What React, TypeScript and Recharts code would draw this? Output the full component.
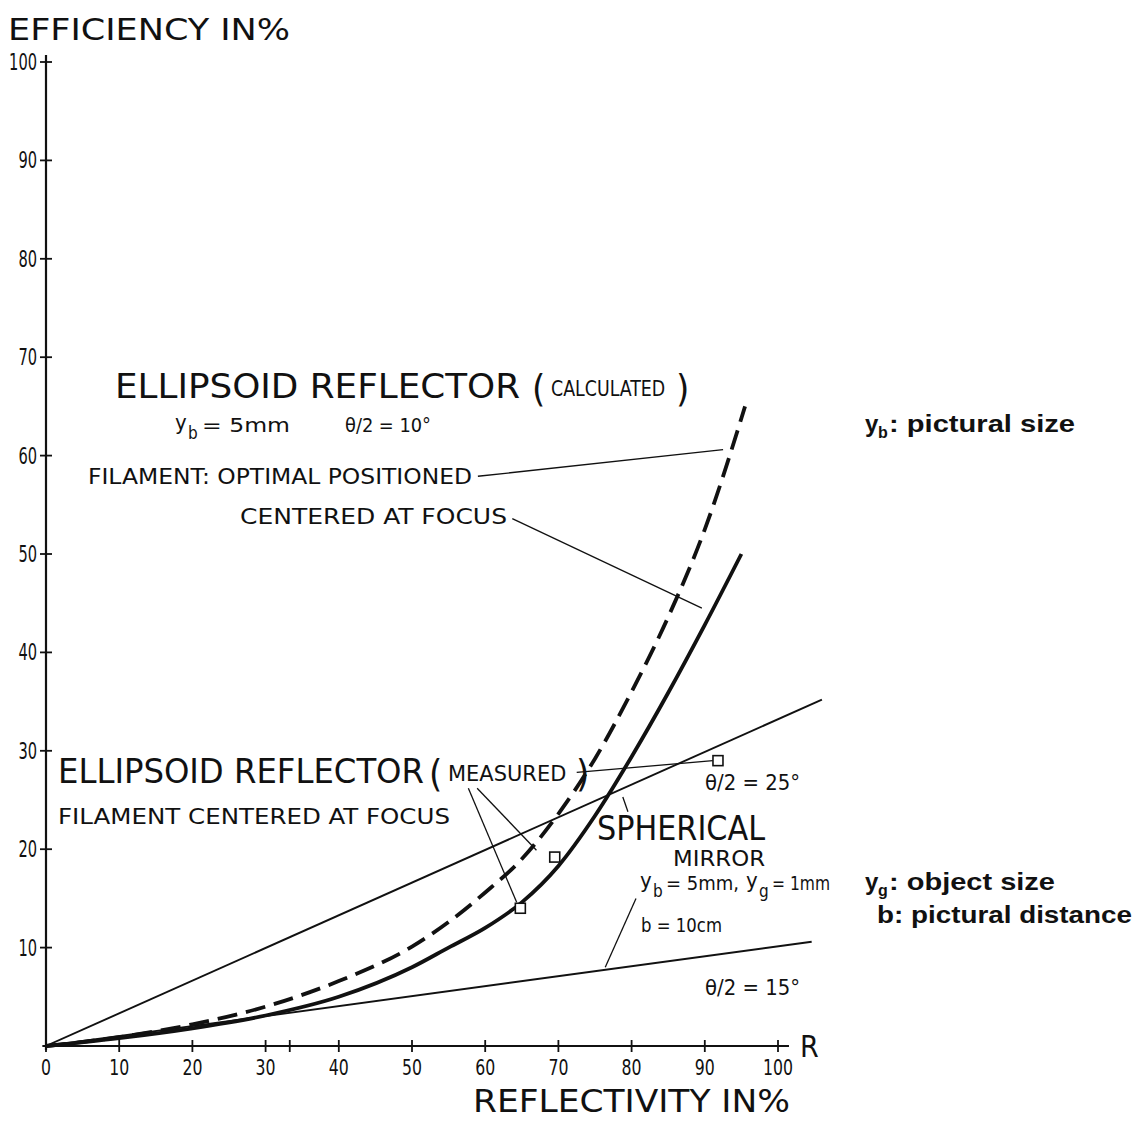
import React from "react";
import { ComposedChart, Line, Scatter, XAxis, YAxis, ReferenceLine } from "recharts";

// axis ticks
const X_TICKS = [0, 10, 20, 30, 40, 50, 60, 70, 80, 90, 100];
const X_EXTRA_TICK = 33.3;
const Y_TICKS = [10, 20, 30, 40, 50, 60, 70, 80, 90, 100];

// ellipsoid reflector (calculated), filament optimal positioned – dashed
const optimalR = [0, 10, 20, 30, 40, 50, 55, 60, 65, 70, 75, 80, 85, 90, 95.5];
const optimalEff = [0, 0.9, 2.2, 4.0, 6.6, 10.1, 12.6, 15.6, 19.0, 23.6, 29.2, 36.0, 43.6, 52.5, 65];

// ellipsoid reflector (calculated), filament centered at focus – solid
const centeredR = [0, 10, 20, 30, 40, 50, 55, 60, 65, 70, 75, 80, 85, 90, 95];
const centeredEff = [0, 0.8, 1.8, 3.1, 5.0, 8.0, 10.0, 12.0, 14.6, 18.3, 23.4, 29.4, 35.9, 42.8, 50];

// spherical mirror, theta/2 = 25° and 15°
const sph25R = [0, 106];
const sph25Eff = [0, 35.2];
const sph15R = [0, 104.6];
const sph15Eff = [0, 10.6];

// ellipsoid reflector (measured)
const measuredR = [64.8, 69.5, 91.8];
const measuredEff = [14.0, 19.2, 29.0];

const pts = (xs: number[], ys: number[]) => xs.map((r, i) => ({ r, eff: ys[i] }));

const optimal = pts(optimalR, optimalEff);
const centered = pts(centeredR, centeredEff);
const sph25 = pts(sph25R, sph25Eff);
const sph15 = pts(sph15R, sph15Eff);
const measured = pts(measuredR, measuredEff);

// pointer lines from the captions to the curves
const leaders: [number, number, number, number][] = [
  [59.0, 57.9, 92.5, 60.6],
  [63.7, 53.6, 89.6, 44.5],
  [72.5, 27.8, 91.1, 29.0],
  [57.7, 26.2, 64.3, 14.6],
  [58.9, 26.2, 67.0, 19.9],
  [78.8, 25.3, 79.5, 23.8],
  [80.6, 15.0, 76.4, 8.0],
];

const INK = "#111";
const DIN = '"DejaVu Sans Condensed", "Liberation Sans Narrow", "DejaVu Sans", sans-serif';
const HELV = '"Liberation Sans", Arial, sans-serif';

const XTick = ({ x, y, payload }: any) => (
  <g>
    <line x1={x} x2={x} y1={y - 6} y2={y + 6} stroke={INK} strokeWidth={1.8} />
    {X_TICKS.includes(payload.value) && (
      <text x={x} y={y + 29} textAnchor="middle" fontFamily={DIN} fontSize={22} fill={INK}
        textLength={String(payload.value).length * 10} lengthAdjust="spacingAndGlyphs">
        {payload.value}
      </text>
    )}
  </g>
);

const YTick = ({ x, y, payload }: any) => (
  <g>
    <line x1={x - 6} x2={x + 6} y1={y} y2={y} stroke={INK} strokeWidth={1.8} />
    <text x={x - 9} y={y + 8} textAnchor="end" fontFamily={DIN} fontSize={23} fill={INK}
      textLength={String(payload.value).length * 9.3} lengthAdjust="spacingAndGlyphs">
      {payload.value}
    </text>
  </g>
);

const Box = ({ cx, cy }: any) => (
  <rect x={cx - 5} y={cy - 5} width={10} height={10} fill="#fff" stroke={INK} strokeWidth={1.6} />
);

const T = ({ x, y, s, len, children, family = DIN, weight = 400 }: any) => (
  <text x={x} y={y} fontSize={s} fontFamily={family} fontWeight={weight} fill={INK}
    {...(len ? { textLength: len, lengthAdjust: "spacingAndGlyphs" } : {})}>
    {children}
  </text>
);

// "(WORD)" with tall brackets around narrowed small capitals
const Bracketed = ({ x, y, word, sx, len }: any) => (
  <g fontFamily={DIN} fill={INK}>
    <text x={x} y={y + 3} fontSize={38}>(</text>
    <text transform={`translate(${x + 19},${y - 2}) scale(${sx},1)`} fontSize={22}>{word}</text>
    <text x={x + 30 + len} y={y + 3} fontSize={38}>)</text>
  </g>
);

export default function App() {
  return (
    <div style={{ position: "absolute", left: 0, top: 0, width: 1138, height: 1122, background: "#fff" }}>
      <ComposedChart width={1138} height={1122} margin={{ top: 62, right: 286.8, bottom: 46, left: 6 }}>
        <XAxis type="number" dataKey="r" domain={[0, 110]} ticks={[...X_TICKS, X_EXTRA_TICK].sort((a, b) => a - b)}
          interval={0} height={30} axisLine={false} tickLine={false} tickSize={0} tickMargin={0} tick={<XTick />} allowDataOverflow />
        <YAxis type="number" dataKey="eff" domain={[0, 100]} ticks={Y_TICKS} interval={0} width={40}
          axisLine={false} tickLine={false} tickSize={0} tickMargin={0} tick={<YTick />} />
        <ReferenceLine segment={[{ x: -0.5, y: 0 }, { x: 101.5, y: 0 }]} stroke={INK} strokeWidth={2.2} ifOverflow="visible" />
        <ReferenceLine segment={[{ x: 0, y: -0.4 }, { x: 0, y: 100.7 }]} stroke={INK} strokeWidth={2.2} ifOverflow="visible" />

        <Line data={sph25} dataKey="eff" type="linear" stroke={INK} strokeWidth={1.9} dot={false} isAnimationActive={false} />
        <Line data={sph15} dataKey="eff" type="linear" stroke={INK} strokeWidth={1.9} dot={false} isAnimationActive={false} />
        <Line data={optimal} dataKey="eff" type="monotone" stroke={INK} strokeWidth={3.8} strokeDasharray="20 9" dot={false} isAnimationActive={false} />
        <Line data={centered} dataKey="eff" type="monotone" stroke={INK} strokeWidth={3.8} dot={false} isAnimationActive={false} />

        {leaders.map(([x1, y1, x2, y2], i) => (
          <ReferenceLine key={i} segment={[{ x: x1, y: y1 }, { x: x2, y: y2 }]} stroke={INK} strokeWidth={1.3} ifOverflow="visible" />
        ))}

        <Scatter data={measured} dataKey="eff" shape={<Box />} isAnimationActive={false} />
      </ComposedChart>

      <svg width={1138} height={1122} style={{ position: "absolute", left: 0, top: 0, pointerEvents: "none" }}>
        <T x={8} y={40} s={31} len={282}>EFFICIENCY IN%</T>
        <T x={473} y={1112} s={32} len={317}>REFLECTIVITY IN%</T>
        <T x={800} y={1057} s={30}>R</T>

        {/* calculated ellipsoid block */}
        <T x={115} y={398} s={34} len={405}>ELLIPSOID REFLECTOR</T>
        <Bracketed x={532} y={398} word="CALCULATED" sx={0.88} len={114} />
        <T x={175} y={430} s={22}>y</T>
        <T x={188} y={439} s={17}>b</T>
        <T x={202} y={432} s={19} len={88}>= 5mm</T>
        <T x={345} y={432} s={19} len={86}>θ/2 = 10°</T>
        <T x={88} y={484} s={22} len={384}>FILAMENT: OPTIMAL POSITIONED</T>
        <T x={240} y={524} s={22} len={267}>CENTERED AT FOCUS</T>

        {/* measured ellipsoid block */}
        <T x={58} y={783} s={34} len={366}>ELLIPSOID REFLECTOR</T>
        <Bracketed x={429} y={783} word="MEASURED" sx={1.06} len={117} />
        <T x={58} y={824} s={22} len={392}>FILAMENT CENTERED AT FOCUS</T>

        {/* spherical mirror block */}
        <T x={597} y={840} s={34} len={168}>SPHERICAL</T>
        <T x={673} y={866} s={22} len={92}>MIRROR</T>
        <T x={640} y={888} s={22}>y</T>
        <T x={653} y={897} s={17}>b</T>
        <T x={666} y={890} s={20} len={73}>= 5mm,</T>
        <T x={746} y={888} s={22}>y</T>
        <T x={759} y={897} s={17}>g</T>
        <T x={772} y={890} s={20} len={58}>= 1mm</T>
        <T x={641} y={932} s={20} len={81}>b = 10cm</T>
        <T x={705} y={790} s={22} len={95}>θ/2 = 25°</T>
        <T x={705} y={995} s={22} len={95}>θ/2 = 15°</T>

        {/* symbol legend */}
        <T x={865} y={432} s={24} family={HELV} weight={700}>y</T>
        <T x={878} y={438} s={16} family={HELV} weight={700}>b</T>
        <T x={889} y={432} s={24} family={HELV} weight={700} len={186}>:  pictural size</T>
        <T x={865} y={890} s={24} family={HELV} weight={700}>y</T>
        <T x={878} y={896} s={16} family={HELV} weight={700}>g</T>
        <T x={889} y={890} s={24} family={HELV} weight={700} len={166}>:  object size</T>
        <T x={877} y={923} s={24} family={HELV} weight={700} len={255}>b:  pictural distance</T>
      </svg>
    </div>
  );
}
